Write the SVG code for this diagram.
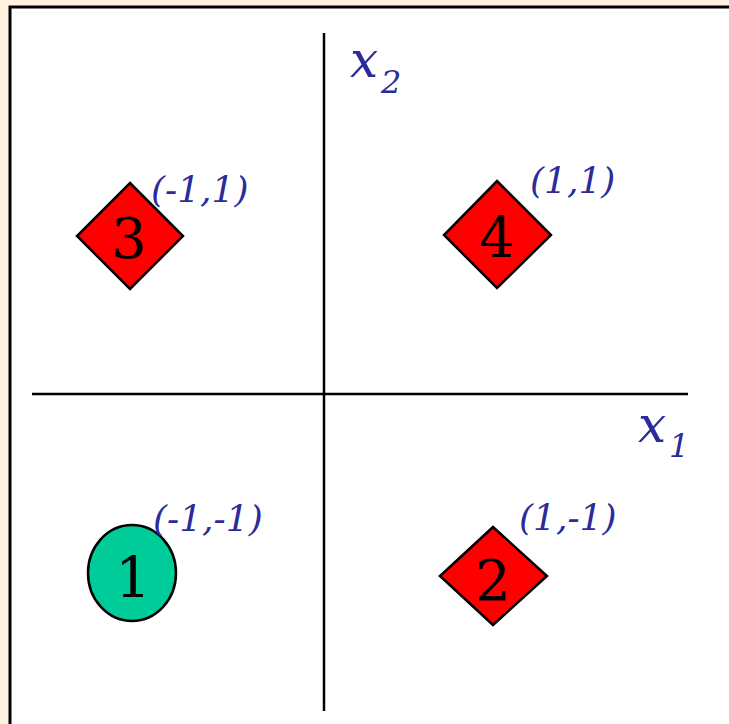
<svg xmlns="http://www.w3.org/2000/svg" width="729" height="724" viewBox="0 0 729 724">
<style>
.node{stroke:#000;stroke-width:2.5}
.red{fill:#FF0000}
.green{fill:#00CC99}
.axis{stroke:#000;stroke-width:2.5;fill:none}
.num{font-family:'DejaVu Serif',serif;font-size:56px;fill:#000;text-anchor:middle}
.lab{font-family:'DejaVu Serif',serif;font-style:italic;font-size:36px;fill:#2B2B9B}
.big{font-size:50px}
.sub{font-size:32px}
</style>
<rect x="0" y="0" width="729" height="724" fill="#FFF3E0"/>
<rect x="10" y="7" width="740" height="740" fill="#FFFFFF" stroke="#000" stroke-width="3"/>
<g id="connectors">
<line class="axis" x1="324" y1="33" x2="324" y2="711"/>
<line class="axis" x1="32" y1="394" x2="688" y2="394"/>
</g>
<g id="axis-x2">
<text class="lab big" x="350" y="77">x</text>
<text class="lab sub" x="381" y="93">2</text>
</g>
<g id="axis-x1">
<text class="lab big" x="638" y="442">x</text>
<text class="lab sub" x="669" y="457">1</text>
</g>
<g id="node3">
<polygon class="node red" points="130,183 183,236 130,289 77,236"/>
<text class="num" x="129" y="258">3</text>
<text class="lab" x="151" y="202">(-1,1)</text>
</g>
<g id="node4">
<polygon class="node red" points="497,181 551,235 497,288 444,235"/>
<text class="num" x="497" y="257">4</text>
<text class="lab" x="530" y="193">(1,1)</text>
</g>
<g id="node1">
<ellipse class="node green" cx="132" cy="573" rx="44" ry="48"/>
<text class="num" x="133" y="597">1</text>
<text class="lab" x="153" y="531">(-1,-1)</text>
</g>
<g id="node2">
<polygon class="node red" points="493,527 547,576 493,625 440,576"/>
<text class="num" x="493" y="600">2</text>
<text class="lab" x="519" y="530">(1,-1)</text>
</g>
</svg>
